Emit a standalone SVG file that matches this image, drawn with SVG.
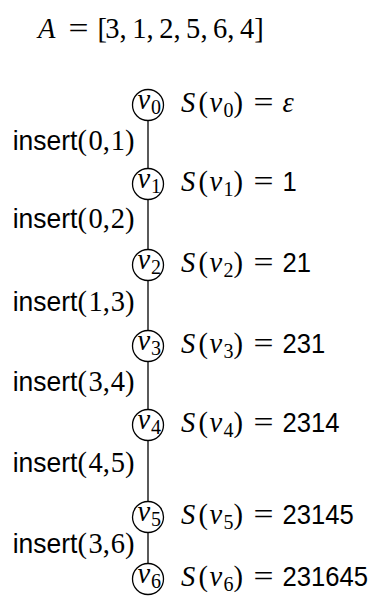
<svg xmlns="http://www.w3.org/2000/svg" width="377" height="599" viewBox="0 0 377 599">
<style>
.m{font-family:"Liberation Serif",serif;font-size:28.5px;fill:#000}
.i{font-style:italic}
.s{font-family:"Liberation Sans",sans-serif;font-size:28.5px;fill:#000}
.sub{font-size:20px}
.c{fill:#fff;stroke:#000;stroke-width:1.3}
.e{stroke:#000;stroke-width:1.3;fill:none}
</style>
<g id="title">
<text class="m" y="38"><tspan class="i" x="38">A</tspan></text>
<text class="m" x="68.5" y="38" textLength="20" lengthAdjust="spacingAndGlyphs">=</text>
<text class="m" x="97.4 105.3 119.6 132.2 146.5 159.2 173.4 186.1 200.4 213.1 227.3 240 254.2" y="38">[3,1,2,5,6,4]</text>
</g>
<g id="edges">
<line class="e" x1="148" y1="120.5" x2="148" y2="168.5"/>
<line class="e" x1="148" y1="199.5" x2="148" y2="249.5"/>
<line class="e" x1="148" y1="280.5" x2="148" y2="330.5"/>
<line class="e" x1="148" y1="361.5" x2="148" y2="409.5"/>
<line class="e" x1="148" y1="440.5" x2="148" y2="501.5"/>
<line class="e" x1="148" y1="532.5" x2="148" y2="563.5"/>
<g id="l01"><text class="s" x="12.7" y="150" textLength="64.7" lengthAdjust="spacingAndGlyphs">insert</text><text class="m" x="77.4 88.5 102.7 110.7 124.9" y="150">(0,1)</text></g>
<g id="l12"><text class="s" x="12.7" y="228" textLength="64.7" lengthAdjust="spacingAndGlyphs">insert</text><text class="m" x="77.4 88.5 102.7 110.7 124.9" y="228">(0,2)</text></g>
<g id="l23"><text class="s" x="12.7" y="311" textLength="64.7" lengthAdjust="spacingAndGlyphs">insert</text><text class="m" x="77.4 88.5 102.7 110.7 124.9" y="311">(1,3)</text></g>
<g id="l34"><text class="s" x="12.7" y="391" textLength="64.7" lengthAdjust="spacingAndGlyphs">insert</text><text class="m" x="77.4 88.5 102.7 110.7 124.9" y="391">(3,4)</text></g>
<g id="l45"><text class="s" x="12.7" y="472" textLength="64.7" lengthAdjust="spacingAndGlyphs">insert</text><text class="m" x="77.4 88.5 102.7 110.7 124.9" y="472">(4,5)</text></g>
<g id="l56"><text class="s" x="12.7" y="553" textLength="64.7" lengthAdjust="spacingAndGlyphs">insert</text><text class="m" x="77.4 88.5 102.7 110.7 124.9" y="553">(3,6)</text></g>
</g>
<g id="v0">
<circle class="c" cx="148" cy="105" r="15.5"/>
<text class="m" y="109"><tspan class="i" x="137.5">v</tspan><tspan class="sub" x="151" dy="4.5">0</tspan></text>
<text class="m" y="112"><tspan class="i" x="181">S</tspan><tspan x="198.5">(</tspan><tspan class="i" x="209.6">v</tspan><tspan class="sub" x="223.4" dy="4.5">0</tspan><tspan x="233.4" dy="-4.5">)</tspan><tspan class="i" x="282.5">ε</tspan></text>
<text class="m" x="253.5" y="112" textLength="20" lengthAdjust="spacingAndGlyphs">=</text>
</g>
<g id="v1">
<circle class="c" cx="148" cy="184" r="15.5"/>
<text class="m" y="188"><tspan class="i" x="137.5">v</tspan><tspan class="sub" x="151" dy="4.5">1</tspan></text>
<text class="m" y="191"><tspan class="i" x="181">S</tspan><tspan x="198.5">(</tspan><tspan class="i" x="209.6">v</tspan><tspan class="sub" x="223.4" dy="4.5">1</tspan><tspan x="233.4" dy="-4.5">)</tspan></text>
<text class="m" x="253.5" y="191" textLength="20" lengthAdjust="spacingAndGlyphs">=</text>
<text class="s" x="282.5" y="191" textLength="14.25" lengthAdjust="spacingAndGlyphs">1</text>
</g>
<g id="v2">
<circle class="c" cx="148" cy="265" r="15.5"/>
<text class="m" y="269"><tspan class="i" x="137.5">v</tspan><tspan class="sub" x="151" dy="4.5">2</tspan></text>
<text class="m" y="272"><tspan class="i" x="181">S</tspan><tspan x="198.5">(</tspan><tspan class="i" x="209.6">v</tspan><tspan class="sub" x="223.4" dy="4.5">2</tspan><tspan x="233.4" dy="-4.5">)</tspan></text>
<text class="m" x="253.5" y="272" textLength="20" lengthAdjust="spacingAndGlyphs">=</text>
<text class="s" x="282.5" y="272" textLength="28.5" lengthAdjust="spacingAndGlyphs">21</text>
</g>
<g id="v3">
<circle class="c" cx="148" cy="346" r="15.5"/>
<text class="m" y="350"><tspan class="i" x="137.5">v</tspan><tspan class="sub" x="151" dy="4.5">3</tspan></text>
<text class="m" y="353"><tspan class="i" x="181">S</tspan><tspan x="198.5">(</tspan><tspan class="i" x="209.6">v</tspan><tspan class="sub" x="223.4" dy="4.5">3</tspan><tspan x="233.4" dy="-4.5">)</tspan></text>
<text class="m" x="253.5" y="353" textLength="20" lengthAdjust="spacingAndGlyphs">=</text>
<text class="s" x="282.5" y="353" textLength="42.75" lengthAdjust="spacingAndGlyphs">231</text>
</g>
<g id="v4">
<circle class="c" cx="148" cy="425" r="15.5"/>
<text class="m" y="429"><tspan class="i" x="137.5">v</tspan><tspan class="sub" x="151" dy="4.5">4</tspan></text>
<text class="m" y="432"><tspan class="i" x="181">S</tspan><tspan x="198.5">(</tspan><tspan class="i" x="209.6">v</tspan><tspan class="sub" x="223.4" dy="4.5">4</tspan><tspan x="233.4" dy="-4.5">)</tspan></text>
<text class="m" x="253.5" y="432" textLength="20" lengthAdjust="spacingAndGlyphs">=</text>
<text class="s" x="282.5" y="432" textLength="57" lengthAdjust="spacingAndGlyphs">2314</text>
</g>
<g id="v5">
<circle class="c" cx="148" cy="517" r="15.5"/>
<text class="m" y="521"><tspan class="i" x="137.5">v</tspan><tspan class="sub" x="151" dy="4.5">5</tspan></text>
<text class="m" y="524"><tspan class="i" x="181">S</tspan><tspan x="198.5">(</tspan><tspan class="i" x="209.6">v</tspan><tspan class="sub" x="223.4" dy="4.5">5</tspan><tspan x="233.4" dy="-4.5">)</tspan></text>
<text class="m" x="253.5" y="524" textLength="20" lengthAdjust="spacingAndGlyphs">=</text>
<text class="s" x="282.5" y="524" textLength="71.25" lengthAdjust="spacingAndGlyphs">23145</text>
</g>
<g id="v6">
<circle class="c" cx="148" cy="579" r="15.5"/>
<text class="m" y="583"><tspan class="i" x="137.5">v</tspan><tspan class="sub" x="151" dy="4.5">6</tspan></text>
<text class="m" y="586"><tspan class="i" x="181">S</tspan><tspan x="198.5">(</tspan><tspan class="i" x="209.6">v</tspan><tspan class="sub" x="223.4" dy="4.5">6</tspan><tspan x="233.4" dy="-4.5">)</tspan></text>
<text class="m" x="253.5" y="586" textLength="20" lengthAdjust="spacingAndGlyphs">=</text>
<text class="s" x="282.5" y="586" textLength="85.5" lengthAdjust="spacingAndGlyphs">231645</text>
</g>
</svg>
